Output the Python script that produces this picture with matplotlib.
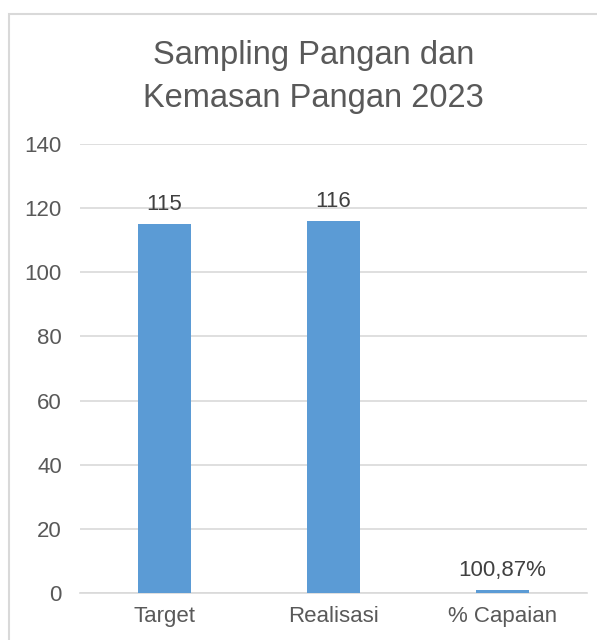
import matplotlib.pyplot as plt
import matplotlib.patches as mpatches

categories = ["Target", "Realisasi", "% Capaian"]
values = [115, 116, 1.0087]
labels = ["115", "116", "100,87%"]

yticks = [0, 20, 40, 60, 80, 100, 120, 140]

plt.rcParams['font.family'] = ['Liberation Sans', 'DejaVu Sans']
txt = '#595959'

fig = plt.figure(figsize=(5.97, 6.40), dpi=100)
ax = fig.add_axes([0.134, 0.0734, 0.849, 0.7016])

# outer chart frame like the Excel chart area
fig.patches.append(mpatches.Rectangle((9/597, -0.1), 1.2, 1.1 - 14/640,
                                      transform=fig.transFigure, fill=False,
                                      edgecolor='#D9D9D9', linewidth=1.5))

x = range(len(categories))
ax.bar(x, values, width=0.31, color='#5B9BD5', zorder=3)

for i, v in enumerate(values):
    ax.annotate(labels[i], (i, v), xytext=(0, 10), textcoords='offset points',
                ha='center', va='baseline', fontsize=16, color='#404040')

ax.set_ylim(0, 140)
ax.set_xlim(-0.5, 2.5)
ax.set_yticks(yticks)
ax.yaxis.grid(True, color='#D9D9D9', linewidth=1.2, zorder=0)
ax.set_xticks(list(x))
ax.set_xticklabels(categories)
ax.tick_params(axis='both', length=0, labelsize=16, colors=txt)
ax.tick_params(axis='y', pad=13)
ax.tick_params(axis='x', pad=9)
for s in ['top', 'right', 'left']:
    ax.spines[s].set_visible(False)
ax.spines['bottom'].set_color('#D9D9D9')
ax.spines['bottom'].set_linewidth(1.2)

fig.text(0.525, 0.879, "Sampling Pangan dan\nKemasan Pangan 2023", ha='center', va='center',
         fontsize=23.5, color=txt, linespacing=1.5)

fig.savefig('out.png', dpi=100)
